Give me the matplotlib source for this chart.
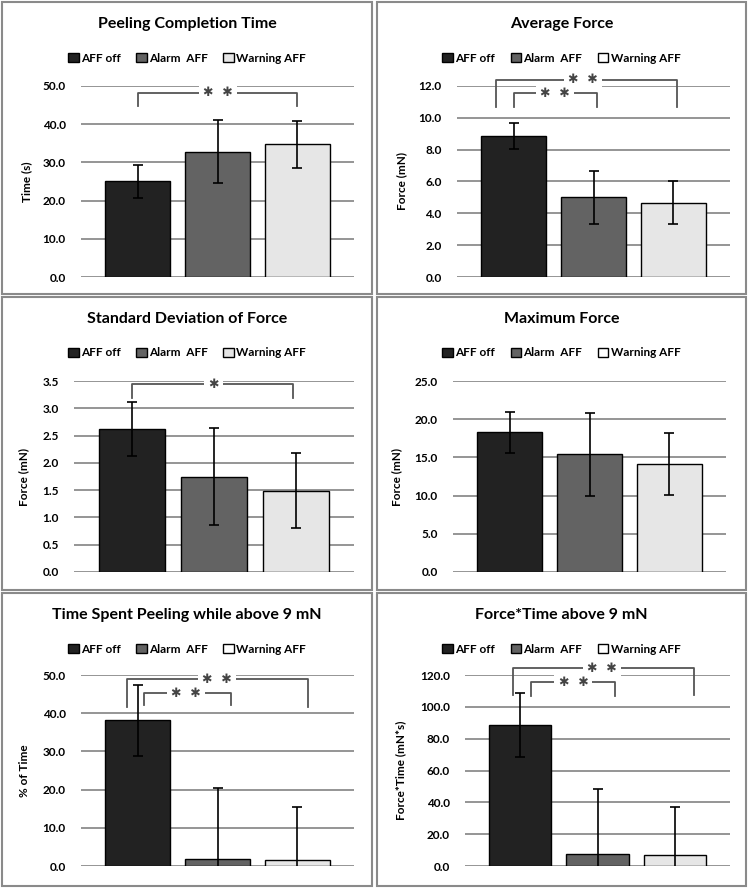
import numpy as np
import matplotlib
matplotlib.use('Agg')
import matplotlib.pyplot as plt
from matplotlib.patches import Rectangle, Patch

plt.rcParams['font.family'] = ['Lato', 'DejaVu Sans']
plt.rcParams['font.weight'] = 'bold'

# data
groups = ['AFF off', 'Alarm  AFF', 'Warning AFF']
titles = ['Peeling Completion Time', 'Average Force', 'Standard Deviation of Force',
          'Maximum Force', 'Time Spent Peeling while above 9 mN', 'Force*Time above 9 mN']
ylabels = ['Time (s)', 'Force (mN)', 'Force (mN)', 'Force (mN)', '% of Time', 'Force*Time (mN*s)']

completion_mean = [25.0, 32.8, 34.7]
completion_sd = [4.2, 8.2, 6.2]
avg_force_mean = [8.85, 5.0, 4.68]
avg_force_sd = [0.8, 1.68, 1.34]
sd_force_mean = [2.62, 1.75, 1.49]
sd_force_sd = [0.49, 0.89, 0.69]
max_force_mean = [18.3, 15.4, 14.15]
max_force_sd = [2.7, 5.45, 4.1]
pct_time_mean = [38.1, 1.9, 1.6]
pct_time_sd = [9.2, 18.4, 13.9]
force_time_mean = [88.5, 7.7, 6.7]
force_time_sd = [20.0, 40.4, 30.6]

means = [completion_mean, avg_force_mean, sd_force_mean, max_force_mean, pct_time_mean, force_time_mean]
sds = [completion_sd, avg_force_sd, sd_force_sd, max_force_sd, pct_time_sd, force_time_sd]
ymax = [50, 12, 3.5, 25, 50, 120]
ystep = [10, 2, 0.5, 5, 10, 20]

# significance brackets: (x start, x end, top, leg bottom, star x, label)
brackets = [
    [(0.0, 2.0, 48.2, 44.8, 1.0, '✱ ✱')],
    [(-0.22, 2.04, 12.4, 10.7, 0.87, '✱ ✱'), (0.0, 1.05, 11.55, 10.7, 0.52, '✱ ✱')],
    [(0.0, 1.96, 3.44, 3.19, 0.99, '✱')],
    [],
    [(-0.13, 2.13, 48.95, 41.7, 0.99, '✱ ✱'), (0.08, 1.17, 45.2, 42.1, 0.61, '✱ ✱')],
    [(-0.085, 2.24, 124.2, 107.4, 1.06, '✱ ✱'), (0.14, 1.22, 115.4, 107.0, 0.69, '✱ ✱')],
]

colors = ['#222222', '#636363', '#e6e6e6']
legend_third = ['#e6e6e6', '#ffffff', '#e6e6e6', '#ffffff', '#ffffff', '#ffffff']

W, H = 748, 888
fig = plt.figure(figsize=(W / 100, H / 100), dpi=100)

# panel frames (pixels) and axes boxes (pixels)
panels = [(2, 2, 370, 292), (377, 2, 369, 292),
          (2, 297, 370, 293), (377, 297, 369, 293),
          (2, 593, 370, 293), (377, 593, 369, 293)]
axboxes = [(81, 86, 354, 277), (457, 86, 730, 277),
           (74, 381, 354, 572), (453, 381, 726, 572),
           (81, 675, 354, 866), (465, 675, 730, 866)]
ylab_x = [32, 407, 29, 402, 30, 406]

x = np.arange(3)
for i in range(6):
    px, py, pw, ph = panels[i]
    fig.patches.append(Rectangle((px / W, 1 - (py + ph) / H), pw / W, ph / H,
                                 transform=fig.transFigure, fill=False,
                                 edgecolor='#8a8a8a', lw=1.5))
    x0, y0, x1, y1 = axboxes[i]
    ax = fig.add_axes([x0 / W, 1 - y1 / H, (x1 - x0) / W, (y1 - y0) / H])
    ax.bar(x, means[i], width=0.81, color=colors, edgecolor='black', lw=1.0, zorder=3)
    ax.errorbar(x, means[i], yerr=sds[i], fmt='none', ecolor='black', elinewidth=1.2,
                capsize=3.5, capthick=1.2, zorder=4)
    ax.set_xlim(-0.71, 2.71)
    ax.set_ylim(0, ymax[i])
    ticks = np.arange(0, ymax[i] + ystep[i] / 2, ystep[i])
    ax.set_yticks(ticks)
    ax.set_yticklabels(['%.1f' % v for v in ticks], fontweight='bold', fontsize=8.5)
    ax.set_xticks([])
    ax.tick_params(axis='y', length=0, pad=11)
    ax.grid(axis='y', color='#8c8c8c', lw=1.3, zorder=0)
    for s in ax.spines.values():
        s.set_visible(False)
    ax.set_ylabel(ylabels[i], fontsize=8.5, fontweight='bold')
    ax.yaxis.set_label_coords(ylab_x[i] / W, 1 - (y0 + y1) / 2 / H, transform=fig.transFigure)

    for (bx0, bx1, top, leg, sx, lab) in brackets[i]:
        ax.plot([bx0, bx0, bx1, bx1], [leg, top, top, leg], color='#555555', lw=1.3,
                clip_on=False, zorder=5)
        ax.text(sx, top, lab.replace(' ', '  '), ha='center', va='center', fontsize=9,
                color='#444444', family='DejaVu Sans', clip_on=False, zorder=6,
                bbox=dict(facecolor='white', edgecolor='none', pad=3))

    cx = (px + pw / 2) / W
    fig.text(cx, 1 - (py + 22) / H, titles[i], ha='center', va='center', fontsize=11.5,
             fontweight='bold')
    handles = [Patch(facecolor=colors[0], edgecolor='black'),
               Patch(facecolor=colors[1], edgecolor='black'),
               Patch(facecolor=legend_third[i], edgecolor='black')]
    fig.legend(handles, groups, loc='center', bbox_to_anchor=(cx, 1 - (py + 56) / H),
               ncol=3, frameon=False, prop={'size': 8.5, 'weight': 'bold'},
               handlelength=0.9, handleheight=0.9, handletextpad=0.2, columnspacing=1.3)

fig.savefig('out.png', dpi=100, facecolor='white')
